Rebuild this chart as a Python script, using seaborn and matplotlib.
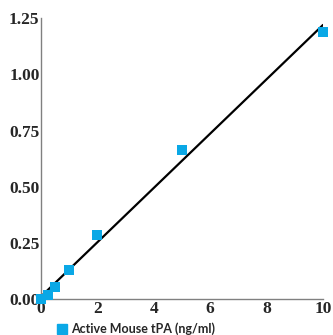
import pandas as pd
import matplotlib.pyplot as plt
import seaborn as sns

# ------------------------------
# Data
# ------------------------------
conc = [0, 0.25, 0.5, 1, 2, 5, 10]
absorbance = [0.0, 0.02, 0.055, 0.13, 0.285, 0.665, 1.19]
df = pd.DataFrame({"conc": conc, "absorbance": absorbance})

x_ticks = [0, 2, 4, 6, 8, 10]
y_ticks = [0.0, 0.25, 0.5, 0.75, 1.0, 1.25]
y_labels = ["0.00", "0.25", "0.50", "0.75", "1.00", "1.25"]

blue = "#0aa8e6"

sns.set_style("white")
fig = plt.figure(figsize=(3.33, 3.35), dpi=100)
ax = fig.add_axes([0.123, 0.107, 0.847, 0.839])

sns.regplot(x="conc", y="absorbance", data=df, ci=None, ax=ax, marker="s",
            scatter_kws={"s": 60, "color": blue, "alpha": 1,
                         "linewidths": 0, "clip_on": False, "zorder": 3},
            line_kws={"color": "black", "lw": 1.6, "zorder": 2})

ax.set_xlim(0, 10)
ax.set_ylim(0, 1.25)
ax.set_xticks(x_ticks)
ax.set_yticks(y_ticks)
ax.set_yticklabels(y_labels)
ax.set_xlabel("")
ax.set_ylabel("")

for s in ["top", "right"]:
    ax.spines[s].set_visible(False)
for s in ["left", "bottom"]:
    ax.spines[s].set_color("#808080")
    ax.spines[s].set_linewidth(1)

ax.tick_params(direction="in", length=4, color="#808080", pad=1)
for lab in ax.get_xticklabels() + ax.get_yticklabels():
    lab.set_fontfamily("Liberation Serif")
    lab.set_fontweight("bold")
    lab.set_fontsize(12.5)

# Legend below the axes
handle = plt.Line2D([], [], marker="s", ls="", color=blue, markersize=7)
fig.legend([handle], ["Active Mouse tPA (ng/ml)"], loc="lower left",
           bbox_to_anchor=(0.135, -0.035), frameon=False, handletextpad=0.2,
           handlelength=1.0,
           prop={"family": ["Lato", "DejaVu Sans"],
                 "weight": "bold", "size": 9})

fig.savefig("out.png", dpi=100)
